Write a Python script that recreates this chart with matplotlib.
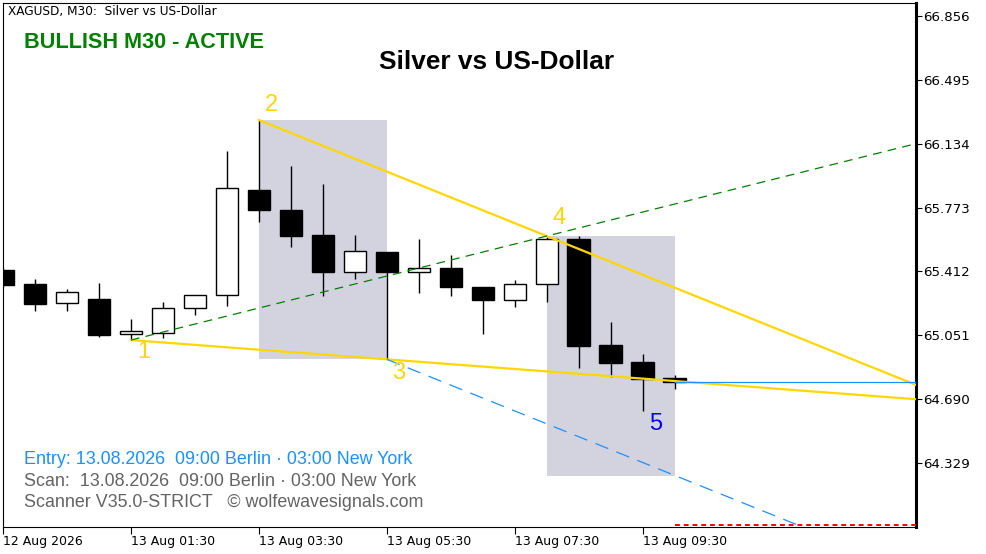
import matplotlib
matplotlib.use("Agg")
import matplotlib.pyplot as plt
from matplotlib.patches import Rectangle
import numpy as np

# ---------------- data ----------------
opens  = [65.420, 65.341, 65.232, 65.254, 65.057, 65.062, 65.204, 65.277, 65.872, 65.759, 65.618,
          65.411, 65.520, 65.411, 65.430, 65.324, 65.253, 65.339, 65.594, 64.994, 64.898, 64.808]
highs  = [65.431, 65.369, 65.313, 65.347, 65.143, 65.239, 65.277, 66.093, 66.268, 66.008, 65.906,
          65.618, 65.520, 65.595, 65.505, 65.324, 65.364, 65.607, 65.612, 65.126, 64.945, 64.827]
lows   = [65.324, 65.190, 65.190, 65.043, 65.024, 65.037, 65.167, 65.218, 65.693, 65.552, 65.275,
          65.369, 64.915, 65.292, 65.275, 65.060, 65.213, 65.241, 64.868, 64.817, 64.625, 64.749]
closes = [65.335, 65.230, 65.294, 65.054, 65.075, 65.204, 65.277, 65.882, 65.762, 65.614, 65.411,
          65.526, 65.411, 65.430, 65.326, 65.252, 65.339, 65.594, 64.992, 64.896, 64.804, 64.789]

price_ticks = [66.856, 66.495, 66.134, 65.773, 65.412, 65.051, 64.690, 64.329]
time_tick_idx = [0, 4, 8, 12, 16, 20]
time_tick_labels = ["12 Aug 2026", "13 Aug 01:30", "13 Aug 03:30", "13 Aug 05:30",
                    "13 Aug 07:30", "13 Aug 09:30"]

wave_idx = [4, 8, 12, 17, 20]
wave_price = [65.024, 66.268, 64.915, 65.612, 64.625]
wave_names = ["1", "2", "3", "4", "5"]

box1 = (8, 12, 64.915, 66.268)   # x0, x1, y0, y1
box2 = (17, 21, 64.258, 65.615)
entry_price = 64.785
ask_price = 63.976

XMIN, XMAX = 0.016, 28.547
YMIN, YMAX = 63.9672, 66.9295

W, H = 986, 554
fig = plt.figure(figsize=(W / 100, H / 100), dpi=100)
fig.patch.set_facecolor("white")
ax = fig.add_axes([3 / W, 1 - 527 / H, (916 - 3) / W, (527 - 3) / H])
ax.set_xlim(XMIN, XMAX)
ax.set_ylim(YMIN, YMAX)
ax.set_facecolor("white")

# shaded boxes
for (x0, x1, y0, y1) in (box1, box2):
    ax.add_patch(Rectangle((x0, y0), x1 - x0, y1 - y0, facecolor="#d3d3e0",
                           edgecolor="none", zorder=1))

# candles
bw = 0.7
for i, (o, h, l, c) in enumerate(zip(opens, highs, lows, closes)):
    ax.plot([i, i], [l, h], color="black", lw=1.0, zorder=3, solid_capstyle="butt")
    bottom = min(o, c)
    height = max(abs(c - o), 0.004)
    fc = "white" if c > o else "black"
    ax.add_patch(Rectangle((i - bw / 2, bottom), bw, height, facecolor=fc,
                           edgecolor="black", lw=1.0, zorder=4))

# wave lines
p1 = (wave_idx[0], wave_price[0])
p2 = (wave_idx[1], wave_price[1])
p3 = (wave_idx[2], wave_price[2])
p4 = (wave_idx[3], wave_price[3])

def line_through(pa, pb, x0, x1):
    s = (pb[1] - pa[1]) / (pb[0] - pa[0])
    return [x0, x1], [pa[1] + s * (x0 - pa[0]), pa[1] + s * (x1 - pa[0])]

xs, ys = line_through(p1, p3, p1[0], XMAX)
ax.plot(xs, ys, color="#FFD700", lw=1.6, zorder=5)
xs, ys = line_through(p2, p4, p2[0], XMAX)
ax.plot(xs, ys, color="#FFD700", lw=1.6, zorder=5)
xs, ys = line_through(p1, p4, p1[0], XMAX)
ax.plot(xs, ys, color="#008000", lw=0.9, ls=(0, (7, 5)), zorder=5)
s24 = (p4[1] - p2[1]) / (p4[0] - p2[0])
ax.plot([p3[0], XMAX], [p3[1], p3[1] + s24 * (XMAX - p3[0])], color="#1E90FF",
        lw=0.9, ls=(0, (11, 7)), zorder=5)

ax.plot([21, XMAX], [entry_price, entry_price], color="#1E90FF", lw=0.9, zorder=5)
ax.plot([21, XMAX], [ask_price, ask_price], color="red", lw=1.4, ls=(0, (2.5, 2)), zorder=5)

# wave labels
offsets = [(13, -12), (13, 15), (12, -14), (12, 18), (13, -13)]
for i, (xi, yi, nm) in enumerate(zip(wave_idx, wave_price, wave_names)):
    dx, dy = offsets[i]
    ax.annotate(nm, (xi, yi), xytext=(dx, dy), textcoords="offset pixels",
                ha="center", va="center", fontsize=17, family="Liberation Sans",
                color="#0000FF" if nm == "5" else "#FFD700", zorder=6)

# axes styling
for side in ("left", "top", "bottom"):
    ax.spines[side].set_linewidth(0.8)
ax.spines["right"].set_linewidth(2.2)
ax.yaxis.tick_right()
ax.set_yticks(price_ticks)
ax.set_yticklabels([f"{v:.3f}" for v in price_ticks])
ax.tick_params(axis="y", direction="out", length=4, width=0.8, pad=1.0,
               labelsize=9.6, colors="black")
ax.set_xticks(time_tick_idx)
ax.set_xticklabels(time_tick_labels)
ax.tick_params(axis="x", direction="out", length=5, width=0.8, pad=1.0, labelsize=9)
for lab in ax.get_xticklabels():
    lab.set_ha("left")

# texts
def ft(x, y, s, **kw):
    fig.text(x / W, 1 - y / H, s, **kw)

ft(8, 12, "XAGUSD, M30:  Silver vs US-Dollar", fontsize=8.7, va="center", ha="left",
   family="DejaVu Sans")
ft(24, 42, "BULLISH M30 - ACTIVE", fontsize=15.6, fontweight="bold", color="#008000",
   va="center", ha="left", family="Liberation Sans")
ft(497, 62, "Silver vs US-Dollar", fontsize=18.9, fontweight="bold", color="black",
   va="center", ha="center", family="Liberation Sans")
ft(24, 459.5, "Entry: 13.08.2026  09:00 Berlin · 03:00 New York", fontsize=12.9,
   color="#1E90FF", va="center", ha="left", family="Liberation Sans")
ft(24, 481, "Scan:  13.08.2026  09:00 Berlin · 03:00 New York", fontsize=12.9,
   color="#646464", va="center", ha="left", family="Liberation Sans")
ft(24, 502.5, "Scanner V35.0-STRICT   © wolfewavesignals.com", fontsize=12.9,
   color="#646464", va="center", ha="left", family="Liberation Sans")

fig.savefig("out.png", dpi=100, facecolor="white")
